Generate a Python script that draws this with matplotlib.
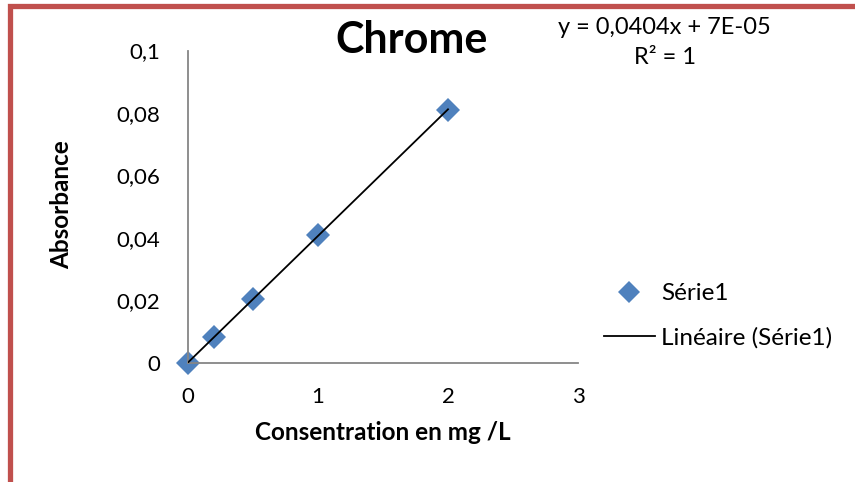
#Import
import numpy as np
import matplotlib.pyplot as plt
from matplotlib.patches import Rectangle
from matplotlib.lines import Line2D

plt.rcParams['font.family'] = ['Lato', 'DejaVu Sans']

#Daten
conc = [0, 0.2, 0.5, 1, 2]
absorb = [0, 0.0082, 0.0205, 0.0410, 0.0810]
x_ticks = [0, 1, 2, 3]
x_labels = ["0", "1", "2", "3"]
y_ticks = [0, 0.02, 0.04, 0.06, 0.08, 0.1]
y_labels = ["0", "0,02", "0,04", "0,06", "0,08", "0,1"]

#Trendlinie
pente, orig = np.polyfit(conc, absorb, 1)
x_fit = np.array([min(conc), max(conc)])
y_fit = pente * x_fit + orig

fig = plt.figure(figsize=(8.55, 4.82), dpi=100)
ax = fig.add_axes([188/855, 1-363/482, 390/855, 312.5/482])

ax.plot(x_fit, y_fit, color="black", lw=1.3, zorder=3)
ax.plot(conc, absorb, "D", color="#4F81BD", markersize=12, markeredgewidth=0, zorder=2, clip_on=False)

ax.set_xlim(0, 3)
ax.set_ylim(0, 0.1)
ax.set_xticks(x_ticks)
ax.set_xticklabels(x_labels)
ax.set_yticks(y_ticks)
ax.set_yticklabels(y_labels)
ax.tick_params(length=0, labelsize=16)
ax.tick_params(axis="x", pad=17)
ax.tick_params(axis="y", pad=20)
for s in ["top", "right"]:
    ax.spines[s].set_visible(False)
for s in ["left", "bottom"]:
    ax.spines[s].set_color("#868686")
    ax.spines[s].set_linewidth(1.3)

ax.set_xlabel("Consentration en mg /L", fontsize=17.5, fontweight="bold", va="center")
ax.xaxis.set_label_coords(0.4987, -0.224)
ax.set_ylabel("Absorbance", fontsize=17.5, fontweight="bold", va="center")
ax.yaxis.set_label_coords(-0.323, 0.506)

fig.text(412/855, 1-40/482, "Chrome", fontsize=31, fontweight="bold", ha="center", va="center")
fig.text(664/855, 1-28/482, "y = 0,0404x + 7E-05", fontsize=17, ha="center", va="center")
fig.text(665/855, 1-58/482, "R² = 1", fontsize=17, ha="center", va="center")

#Legende
handles = [Line2D([], [], ls="none", marker="D", color="#4F81BD", markersize=11, markeredgewidth=0),
           Line2D([], [], color="black", lw=1.3)]
fig.legend(handles, ["Série1", "Linéaire (Série1)"], loc="center left",
           bbox_to_anchor=(582/855, 1-316/482), frameon=False, fontsize=17.5,
           handlelength=2.1, handletextpad=0.25, labelspacing=0.95)

#Roter Rahmen
fig.add_artist(Rectangle((9.5/855, -0.1), 2, (482-5.5)/482 + 0.1, transform=fig.transFigure,
                         fill=False, ec="#C0504D", lw=3.8))

plt.savefig("out.png", dpi=100)
